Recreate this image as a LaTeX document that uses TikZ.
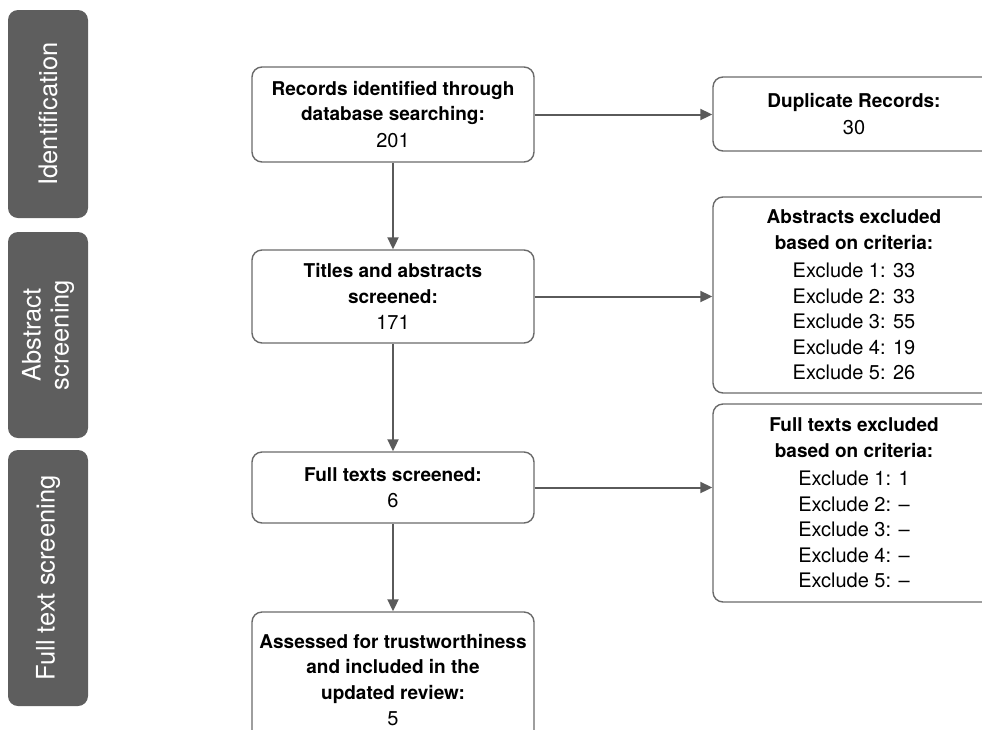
\documentclass[tikz,border=0pt]{standalone}
\usepackage{fontspec}
\setmainfont{TeX Gyre Heros}
\usetikzlibrary{arrows.meta}
\definecolor{boxline}{HTML}{6A6A6A}
\definecolor{arrowgray}{HTML}{5A5A5A}
\definecolor{phasefill}{HTML}{5E5E5E}
\newcommand{\hd}[1]{{\fontsize{19}{25.5}\selectfont\bfseries #1}}
\tikzset{
  phase/.style={draw=none, fill=phasefill, rounded corners=10pt, rotate=90,
    minimum height=80pt, inner sep=0pt, text=white, align=center,
    font=\fontsize{25.5}{28}\selectfont},
  flowbox/.style={draw=boxline, line width=1.4pt, rounded corners=10pt,
    minimum width=282pt, inner sep=0pt, align=center, fill=white,
    font=\fontsize{20}{25.5}\selectfont},
  arr/.style={draw=arrowgray, line width=2pt,
    -{Triangle[length=12pt,width=11pt]}}
}
\begin{document}
\begin{tikzpicture}[x=1pt,y=-1pt]
\useasboundingbox (0,0) rectangle (982,729);
\clip (0,0) rectangle (982,729);

% phase labels on the left
\node[phase, minimum width=208pt] (pid) at (48,114) {Identification};
\node[phase, minimum width=206pt] (pabs) at (48,335) {Abstract\\screening};
\node[phase, minimum width=256pt] (pfull) at (48,578) {Full text screening};

% main column
\node[flowbox, minimum height=95pt] (rec) at (393,114.5)
  {\hd{Records identified through}\\\hd{database searching:}\\[1pt]201};
\node[flowbox, minimum height=93pt] (tit) at (393,296.5)
  {\hd{Titles and abstracts}\\\hd{screened:}\\[1pt]171};
\node[flowbox, minimum height=71pt] (full) at (393,487.5)
  {\hd{Full texts screened:}\\[1pt]6};
\node[flowbox, minimum height=136pt] (ass) at (393,680)
  {\hd{Assessed for trustworthiness}\\\hd{and included in the}\\\hd{updated review:}\\[1pt]5};

% exclusion column
\node[flowbox, minimum height=74pt] (dup) at (854,114)
  {\hd{Duplicate Records:}\\[1pt]30};
\node[flowbox, minimum height=196pt] (absx) at (854,295)
  {\hd{Abstracts excluded}\\\hd{based on criteria:}\\[3pt]
   Exclude 1: 33\\Exclude 2: 33\\Exclude 3: 55\\Exclude 4: 19\\Exclude 5: 26};
\node[flowbox, minimum height=198pt] (fullx) at (854,503)
  {\hd{Full texts excluded}\\\hd{based on criteria:}\\[3pt]
   Exclude 1: 1\\Exclude 2: –\\Exclude 3: –\\Exclude 4: –\\Exclude 5: –};

% connectors
\draw[arr] (rec) -- (tit);
\draw[arr] (tit) -- (full);
\draw[arr] (full) -- (ass);
\draw[arr] (rec.east) -- (rec.east -| dup.west);
\draw[arr] (tit.east) -- (tit.east -| absx.west);
\draw[arr] (full.east) -- (full.east -| fullx.west);
\end{tikzpicture}
\end{document}
